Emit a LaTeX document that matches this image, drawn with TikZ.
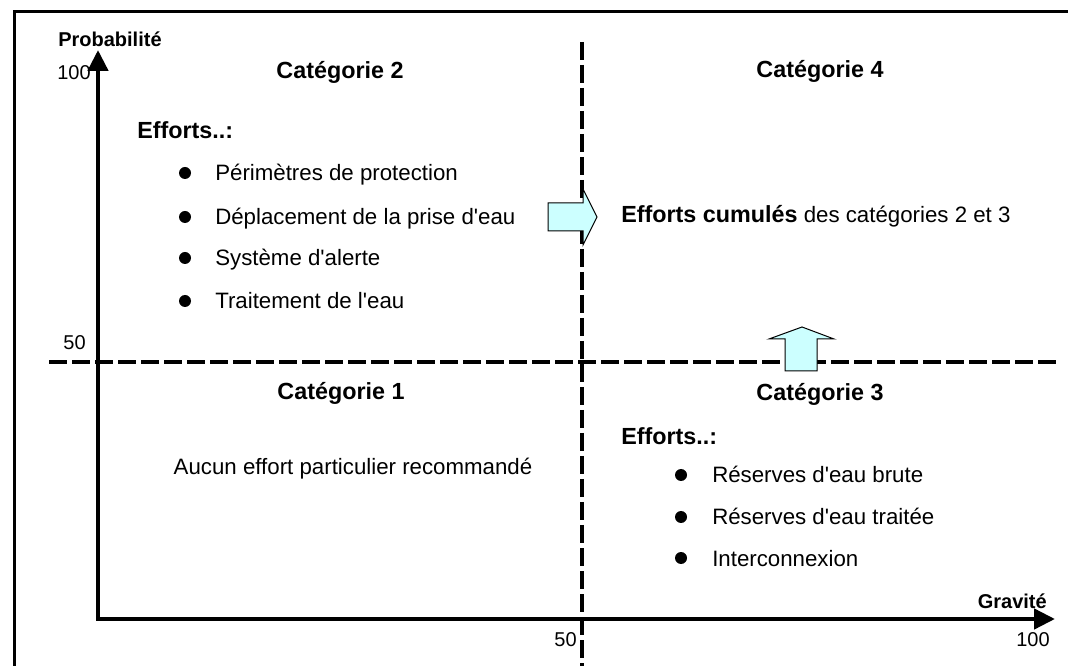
\documentclass[tikz,border=0pt]{standalone}
\usepackage{fontspec}
\setmainfont{Liberation Sans}[Ligatures=TeXOff]
\usetikzlibrary{arrows.meta}
\definecolor{cyanpale}{HTML}{CCFFFF}

\tikzset{
	txt/.style={inner sep=0pt, text height=12pt, text depth=0pt, font=\fontsize{16.7}{20}\selectfont},
	titre/.style={inner sep=0pt, text height=12.5pt, text depth=0pt, font=\fontsize{17.5}{21}\selectfont\bfseries},
	axetxt/.style={inner sep=0pt, text height=10.7pt, text depth=0pt, font=\fontsize{15}{18}\selectfont},
	axe/.style={line width=3.4pt, line join=miter},
	seuil/.style={line width=3pt, dash pattern=on 13.5pt off 3.75pt},
	fleche/.style={draw=black, line width=0.75pt, fill=cyanpale, line join=miter}
}

\begin{document}
\begin{tikzpicture}[x=0.75pt,y=-0.75pt]
	\useasboundingbox (0,0) rectangle (1068,666);
	% cadre
	\draw[line width=2pt, line join=miter] (14.7,666) -- (14.7,11.5) -- (1068,11.5);
	% seuils a 50
	\draw[seuil] (49,362) -- (1060,362);
	\draw[seuil] (582,42) -- (582,666);
	% axes
	\coordinate (origine) at (98,619);
	\coordinate (ymax) at (98,50);
	\coordinate (xmax) at (1055,619);
	\draw[axe, {Triangle[length=15.75pt,width=15pt]}-{Triangle[length=15.75pt,width=15pt]}] (ymax) -- (origine) -- (xmax);
	% fleches bleues (cat. 2 -> 4 et cat. 3 -> 4)
	\draw[fleche] (548,203) -- (583,203) -- (583,189) -- (597,217) -- (583,245) -- (583,231) -- (548,231) -- cycle;
	\draw[fleche] (785,371) -- (785,339) -- (769,339) -- (802,327) -- (834,339) -- (817,339) -- (817,371) -- cycle;
	% graduations
	\node[axetxt, font=\fontsize{15}{18}\selectfont\bfseries, anchor=west] (proba) at (58,39) {Probabilité};
	\node[axetxt, font=\fontsize{15}{18}\selectfont\bfseries, anchor=east] (grav) at (1047,601) {Gravité};
	\node[axetxt, anchor=east] (y100) at (91,72) {100};
	\node[axetxt, anchor=east] (y50) at (86,342) {50};
	\node[axetxt, anchor=east] (x50) at (577,639) {50};
	\node[axetxt, anchor=east] (x100) at (1050,639) {100};
	% categorie 2
	\node[titre] (cat2) at (340,70) {Catégorie 2};
	\node[titre, anchor=west] (eff2) at (137,130) {Efforts..:};
	\fill (185,173) circle (6);
	\fill (185,217) circle (6);
	\fill (185,258) circle (6);
	\fill (185,301) circle (6);
	\node[txt, anchor=west] (perim) at (215,173) {Périmètres de protection};
	\node[txt, anchor=west] (depl) at (215,217) {Déplacement de la prise d'eau};
	\node[txt, anchor=west] (alerte) at (215,258) {Système d'alerte};
	\node[txt, anchor=west] (trait) at (215,301) {Traitement de l'eau};
	% categorie 4
	\node[titre] (cat4) at (820,69) {Catégorie 4};
	\node[txt, anchor=west] (cumul) at (621,215) {\textbf{\fontsize{17.5}{21}\selectfont Efforts cumulés} des catégories 2 et 3};
	% categorie 1
	\node[titre] (cat1) at (341,391) {Catégorie 1};
	\node[txt] (aucun) at (353,467) {Aucun effort particulier recommandé};
	% categorie 3
	\node[titre] (cat3) at (820,392) {Catégorie 3};
	\node[titre, anchor=west] (eff3) at (621,436) {Efforts..:};
	\fill (681,475) circle (6);
	\fill (681,517) circle (6);
	\fill (681,558) circle (6);
	\node[txt, anchor=west] (brute) at (712,475) {Réserves d'eau brute};
	\node[txt, anchor=west] (traitee) at (712,517) {Réserves d'eau traitée};
	\node[txt, anchor=west] (inter) at (712,558) {Interconnexion};
\end{tikzpicture}
\end{document}
